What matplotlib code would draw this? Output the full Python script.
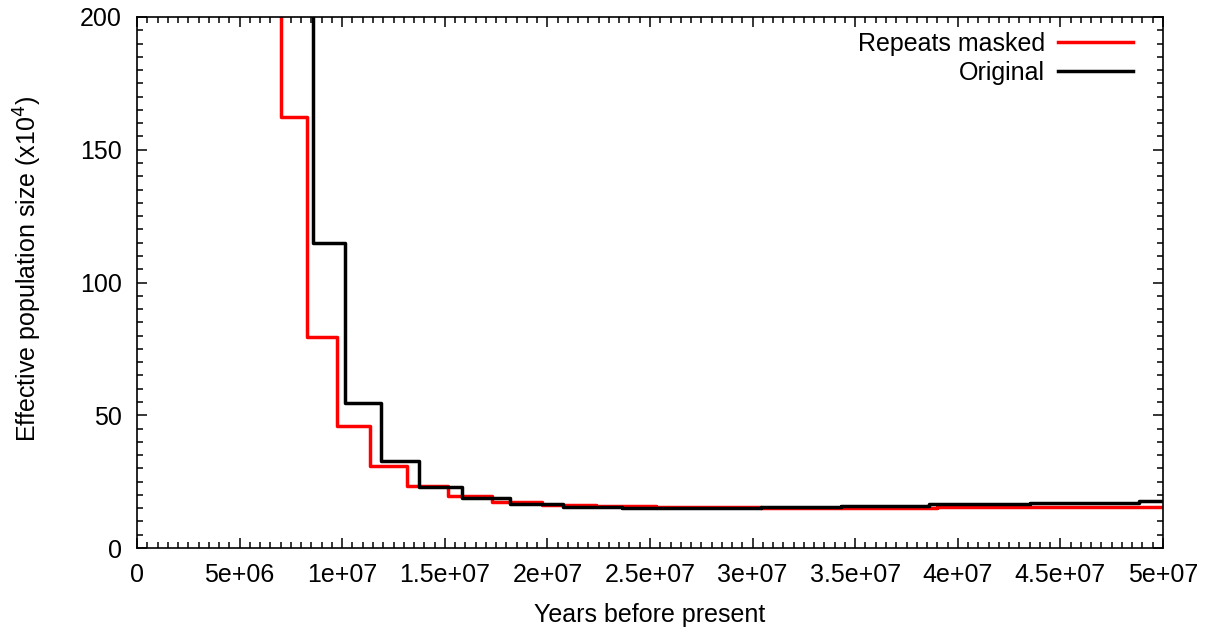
import matplotlib
matplotlib.use('Agg')
import matplotlib.pyplot as plt
from matplotlib.ticker import MultipleLocator, AutoMinorLocator

plt.rcParams['font.family'] = ['Liberation Sans', 'DejaVu Sans']

# step start times (years) and Ne (x10^4) for each series
masked_t = [0, 7.0e6, 8.30e6, 9.76e6, 1.137e7, 1.316e7, 1.514e7, 1.731e7,
            1.972e7, 2.237e7, 2.53e7, 3.04e7, 3.45e7, 3.90e7, 4.40e7, 4.90e7]
masked_ne = [400, 162.2, 79.3, 46.1, 31.0, 23.3, 19.5, 17.2,
             16.2, 15.7, 15.5, 15.0, 15.2, 15.4, 15.5, 15.6]

orig_t = [0, 8.56e6, 1.014e7, 1.187e7, 1.376e7, 1.585e7, 1.818e7, 2.077e7,
          2.362e7, 3.04e7, 3.43e7, 3.86e7, 4.35e7, 4.885e7]
orig_ne = [400, 114.8, 54.8, 32.7, 23.0, 18.7, 16.6, 15.6,
           15.1, 15.6, 16.0, 16.6, 17.1, 17.8]

x_ticks = [0, 5e6, 1e7, 1.5e7, 2e7, 2.5e7, 3e7, 3.5e7, 4e7, 4.5e7, 5e7]
x_labels = ['0', '5e+06', '1e+07', '1.5e+07', '2e+07', '2.5e+07',
            '3e+07', '3.5e+07', '4e+07', '4.5e+07', '5e+07']

fig = plt.figure(figsize=(12.14, 6.34), dpi=100)
ax = fig.add_axes([137 / 1214, 86 / 634, 1026 / 1214, 531 / 634])

ax.step(masked_t + [6e7], masked_ne + [masked_ne[-1]], where='post',
        color='#ff0000', lw=2.5, label='Repeats masked')
ax.step(orig_t + [6e7], orig_ne + [orig_ne[-1]], where='post',
        color='black', lw=2.5, label='Original')

ax.set_xlim(0, 5e7)
ax.set_ylim(0, 200)
ax.set_xticks(x_ticks)
ax.set_xticklabels(x_labels)
ax.yaxis.set_major_locator(MultipleLocator(50))
ax.xaxis.set_minor_locator(AutoMinorLocator(10))
ax.yaxis.set_minor_locator(AutoMinorLocator(10))
ax.tick_params(which='both', direction='in', top=True, right=True,
               labelsize=18, width=1.1)
ax.tick_params(which='major', length=7.5, pad=11)
ax.tick_params(which='minor', length=4)
for s in ax.spines.values():
    s.set_linewidth(1.2)

ax.set_xlabel('Years before present', fontsize=18, labelpad=11)
ax.set_ylabel('Effective population size (x10$^4$)', fontsize=18)
ax.yaxis.set_label_coords(-0.091, 0.526)

ax.legend(loc='upper right', frameon=False, markerfirst=False, fontsize=18,
          handlelength=3.0, handletextpad=0.5, labelspacing=0.2,
          borderaxespad=0.2, bbox_to_anchor=(0.985, 1.0))

fig.savefig('out.png', dpi=100)
